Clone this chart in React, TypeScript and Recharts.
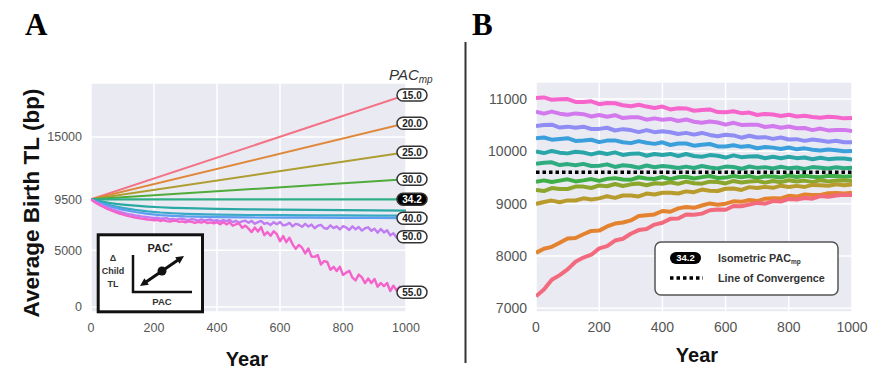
import React from 'react';
import { LineChart, Line, XAxis, YAxis, CartesianGrid, ReferenceLine, ReferenceDot } from 'recharts';

// ---------------- Panel A data ----------------
const A_X_TICKS = [0, 200, 400, 600, 800, 1000];
const A_Y_TICKS = [0, 5000, 9500, 15000];
const A_END_YEARS = [0, 1000];
const A_PAC15 = [9500, 18700];
const A_PAC20 = [9500, 16220];
const A_PAC25 = [9500, 13650];
const A_PAC30 = [9500, 11270];
const A_PAC342 = [9500, 9500];
const A_CURVE_YEARS = [0, 20, 40, 60, 80, 100, 140, 180, 220, 260, 300, 400, 500, 600, 700, 800, 900, 1000];
const A_TEAL = [9500, 9380, 9270, 9180, 9100, 9040, 8940, 8860, 8800, 8750, 8720, 8660, 8620, 8590, 8570, 8550, 8530, 8510];
const A_CYAN = [9500, 9310, 9140, 8990, 8860, 8750, 8570, 8440, 8340, 8270, 8220, 8150, 8120, 8100, 8090, 8080, 8070, 8060];
const A_BLUE = [9500, 9270, 9060, 8880, 8720, 8590, 8380, 8220, 8110, 8040, 7990, 7930, 7900, 7890, 7880, 7870, 7860, 7840];
const A_NOISY_YEARS = [
  0, 10, 20, 30, 40, 50, 60, 70, 80, 90, 100, 110, 120, 130, 140, 150, 160, 170, 180, 190,
  200, 210, 220, 230, 240, 250, 260, 270, 280, 290, 300, 310, 320, 330, 340, 350, 360, 370, 380, 390,
  400, 410, 420, 430, 440, 450, 460, 470, 480, 490, 500, 510, 520, 530, 540, 550, 560, 570, 580, 590,
  600, 610, 620, 630, 640, 650, 660, 670, 680, 690, 700, 710, 720, 730, 740, 750, 760, 770, 780, 790,
  800, 810, 820, 830, 840, 850, 860, 870, 880, 890, 900, 910, 920, 930, 940, 950, 960, 970, 980, 990, 1000,
];
const A_PURPLE = [
  9500, 9330, 9180, 9040, 8910, 8790, 8690, 8580, 8490, 8410,
  8330, 8260, 8200, 8150, 8090, 8050, 8000, 7960, 7930, 7890,
  7850, 7880, 7790, 7820, 7840, 7740, 7780, 7710, 7780, 7800,
  7710, 7670, 7750, 7710, 7630, 7730, 7640, 7680, 7720, 7600,
  7660, 7550, 7670, 7580, 7680, 7490, 7600, 7440, 7550, 7620,
  7440, 7600, 7340, 7490, 7590, 7330, 7420, 7240, 7480, 7310,
  7500, 7200, 7260, 7420, 7110, 7340, 7260, 7070, 7340, 7100,
  7270, 6950, 7170, 7240, 6970, 6900, 7210, 6960, 7110, 6840,
  7130, 7020, 6800, 7120, 6860, 7060, 6740, 6950, 7030, 6720,
  6910, 6560, 6880, 6580, 6770, 6320, 6510, 6130, 6430, 6110,
  6200,
];
const A_MAGENTA = [
  9500, 9290, 9120, 8960, 8820, 8680, 8560, 8450, 8350, 8250,
  8170, 8090, 8020, 7960, 7900, 7850, 7800, 7760, 7720, 7690,
  7660, 7680, 7590, 7660, 7580, 7530, 7600, 7630, 7510, 7560,
  7470, 7560, 7510, 7420, 7520, 7450, 7540, 7400, 7470, 7390,
  7480, 7300, 7500, 7290, 7470, 7170, 7300, 7380, 7000, 7180,
  6920, 6610, 7010, 6660, 7050, 6340, 6610, 6280, 6680, 6420,
  5800, 6260, 5720, 6120, 5530, 5130, 5480, 5230, 4730, 5170,
  4460, 4420, 4580, 3750, 4050, 3970, 3280, 3550, 3180, 3550,
  2830, 3030, 3190, 2590, 2350, 2860, 2610, 2110, 2510, 2110,
  2470, 1790, 2120, 1840, 2120, 1400, 1880, 1460, 1790, 1170,
  1300,
];

// ---------------- Panel B data ----------------
const B_X_TICKS = [0, 200, 400, 600, 800, 1000];
const B_CONVERGENCE = 9600;
const B_Y_TICKS = [7000, 8000, 9000, 9600, 10000, 11000];
const B_Y_TICK_LABELS = ['7000', '8000', '9000', '9500', '10000', '11000'];
const B_YEARS = [
  0, 25, 50, 75, 100, 125, 150, 175, 200, 225, 250, 275, 300, 325, 350, 375, 400, 425, 450, 475,
  500, 525, 550, 575, 600, 625, 650, 675, 700, 725, 750, 775, 800, 825, 850, 875, 900, 925, 950, 975, 1000,
];
const B_MAGENTA = [11020, 11030, 10985, 10995, 11000, 10945, 10945, 10955, 10900, 10925, 10920, 10880, 10860, 10890, 10855, 10830, 10855, 10800, 10825, 10820, 10775, 10790, 10800, 10750, 10745, 10765, 10730, 10740, 10695, 10715, 10705, 10675, 10700, 10665, 10680, 10655, 10640, 10660, 10650, 10630, 10635];
const B_VIOLET = [10760, 10720, 10760, 10720, 10700, 10725, 10710, 10665, 10695, 10660, 10690, 10635, 10650, 10650, 10605, 10630, 10605, 10620, 10580, 10610, 10565, 10545, 10570, 10550, 10510, 10545, 10505, 10510, 10510, 10465, 10485, 10450, 10475, 10440, 10445, 10405, 10435, 10400, 10410, 10410, 10390];
const B_INDIGO = [10485, 10502, 10509, 10455, 10472, 10449, 10471, 10427, 10429, 10451, 10398, 10424, 10406, 10368, 10405, 10366, 10383, 10365, 10332, 10353, 10320, 10352, 10314, 10290, 10317, 10304, 10261, 10297, 10264, 10271, 10238, 10264, 10226, 10233, 10200, 10226, 10208, 10185, 10202, 10173, 10175];
const B_BLUE = [10250, 10264, 10223, 10237, 10251, 10199, 10208, 10222, 10176, 10205, 10209, 10173, 10157, 10196, 10164, 10143, 10172, 10121, 10150, 10149, 10108, 10126, 10140, 10094, 10093, 10117, 10086, 10100, 10059, 10082, 10071, 10045, 10074, 10038, 10057, 10031, 10015, 10034, 10022, 10001, 10005];
const B_TEAL = [10000, 9967, 10008, 9975, 9961, 9993, 9979, 9941, 9977, 9949, 9980, 9932, 9953, 9960, 9916, 9948, 9929, 9951, 9912, 9949, 9910, 9897, 9928, 9915, 9881, 9923, 9889, 9901, 9907, 9869, 9895, 9867, 9898, 9870, 9881, 9848, 9879, 9851, 9862, 9864, 9845];
const B_SEAGREEN = [9765, 9782, 9790, 9738, 9756, 9735, 9760, 9720, 9725, 9751, 9702, 9733, 9720, 9687, 9729, 9696, 9719, 9707, 9680, 9708, 9682, 9721, 9690, 9674, 9708, 9702, 9666, 9710, 9684, 9698, 9672, 9706, 9675, 9690, 9664, 9699, 9688, 9673, 9697, 9676, 9685];
const B_GREEN = [9420, 9445, 9415, 9440, 9465, 9425, 9445, 9470, 9435, 9474, 9488, 9462, 9456, 9505, 9483, 9471, 9509, 9467, 9505, 9513, 9480, 9507, 9529, 9491, 9498, 9530, 9506, 9527, 9493, 9524, 9520, 9501, 9537, 9508, 9534, 9515, 9506, 9532, 9528, 9514, 9525];
const B_LIME = [9260, 9242, 9299, 9280, 9281, 9326, 9326, 9300, 9349, 9332, 9375, 9337, 9369, 9385, 9351, 9391, 9381, 9410, 9379, 9422, 9390, 9383, 9421, 9414, 9387, 9434, 9406, 9423, 9435, 9402, 9434, 9411, 9448, 9425, 9441, 9412, 9449, 9426, 9442, 9448, 9435];
const B_OLIVE = [8995, 9032, 9059, 9026, 9063, 9060, 9102, 9079, 9101, 9143, 9110, 9156, 9157, 9138, 9194, 9175, 9210, 9210, 9195, 9235, 9220, 9269, 9248, 9242, 9286, 9290, 9263, 9316, 9299, 9321, 9303, 9344, 9320, 9340, 9320, 9359, 9353, 9342, 9370, 9353, 9365];
const B_ORANGE = [8060, 8140, 8175, 8255, 8335, 8345, 8415, 8480, 8485, 8565, 8620, 8640, 8680, 8765, 8780, 8795, 8860, 8845, 8910, 8935, 8920, 8965, 9005, 8980, 9000, 9045, 9035, 9070, 9050, 9095, 9105, 9100, 9150, 9135, 9175, 9165, 9165, 9200, 9205, 9195, 9210];
const B_RED = [7230, 7360, 7545, 7635, 7745, 7890, 7970, 8025, 8145, 8190, 8295, 8330, 8425, 8495, 8515, 8600, 8635, 8710, 8715, 8795, 8790, 8810, 8875, 8890, 8885, 8955, 8950, 8985, 9015, 9000, 9050, 9040, 9090, 9080, 9110, 9095, 9145, 9130, 9155, 9170, 9165];

const toPts = (xs: number[], ys: number[]) => xs.map((x, i) => ({ year: x, tl: ys[i] }));

const A_SERIES = [
  { years: A_END_YEARS, values: A_PAC15, color: '#f37286', tag: '15.0', width: 2 },
  { years: A_END_YEARS, values: A_PAC20, color: '#e0883a', tag: '20.0', width: 2 },
  { years: A_END_YEARS, values: A_PAC25, color: '#ae9d31', tag: '25.0', width: 2 },
  { years: A_END_YEARS, values: A_PAC30, color: '#4fab3a', tag: '30.0', width: 2 },
  { years: A_END_YEARS, values: A_PAC342, color: '#2fae86', tag: '34.2', width: 2.2 },
  { years: A_CURVE_YEARS, values: A_TEAL, color: '#2aa9a4', tag: '', width: 2.2 },
  { years: A_CURVE_YEARS, values: A_CYAN, color: '#38a9c5', tag: '', width: 2.2 },
  { years: A_CURVE_YEARS, values: A_BLUE, color: '#5e9ef0', tag: '40.0', width: 2.2 },
  { years: A_NOISY_YEARS, values: A_PURPLE, color: '#c17cf2', tag: '50.0', width: 2.4 },
  { years: A_NOISY_YEARS, values: A_MAGENTA, color: '#f462cc', tag: '55.0', width: 2.4 },
];

const B_SERIES = [
  { values: B_MAGENTA, color: '#f565cc' },
  { values: B_VIOLET, color: '#d279ee' },
  { values: B_INDIGO, color: '#8f8cf3' },
  { values: B_BLUE, color: '#3b9fdb' },
  { values: B_TEAL, color: '#2aa5a8' },
  { values: B_SEAGREEN, color: '#2fab80' },
  { values: B_GREEN, color: '#3fae48' },
  { values: B_LIME, color: '#8ca62d' },
  { values: B_OLIVE, color: '#b89b2d' },
  { values: B_ORANGE, color: '#e4832f' },
  { values: B_RED, color: '#f26a7d' },
];

const FONT = '"Liberation Sans", Arial, Helvetica, sans-serif';

function TagBox(props: any) {
  const { cx, cy, text } = props;
  const dark = text === '34.2';
  const w = 30;
  const h = 12;
  const mx = cx + 6;
  return (
    <g>
      <rect x={mx - w / 2} y={cy - h / 2} width={w} height={h} rx={6} ry={6}
        fill={dark ? '#000' : '#fff'} stroke="#333" strokeWidth={1.5} />
      <text x={mx} y={cy} dy="0.36em" textAnchor="middle" fontFamily={FONT}
        fontWeight={700} fontSize={10} fill={dark ? '#fff' : '#222'}>{text}</text>
    </g>
  );
}

function BYTick(props: any) {
  const { x, y, payload } = props;
  const idx = B_Y_TICKS.indexOf(payload.value);
  const label = idx >= 0 ? B_Y_TICK_LABELS[idx] : String(payload.value);
  const bold = payload.value === B_CONVERGENCE;
  return (
    <text x={x} y={y} dy="0.36em" textAnchor="end" fontFamily={FONT}
      fontSize={bold ? 15.5 : 14} fontWeight={bold ? 700 : 400} fill={bold ? '#111' : '#555'}>
      {label}
    </text>
  );
}

function PanelA() {
  return (
    <LineChart width={435} height={369} margin={{ top: 83, right: 29, bottom: 27, left: 31 }}>
      <CartesianGrid fill="#EAEAF2" stroke="#ffffff" strokeWidth={1.5} />
      <XAxis type="number" dataKey="year" domain={[0, 1000]} ticks={A_X_TICKS} allowDataOverflow
        axisLine={false} tickLine={false} tickSize={0} tickMargin={11} height={30}
        tick={{ fill: '#555', fontSize: 12.5, fontFamily: FONT }} />
      <YAxis type="number" domain={[-441, 19765]} ticks={A_Y_TICKS} allowDataOverflow
        axisLine={false} tickLine={false} tickSize={0} tickMargin={9} width={60}
        tick={{ fill: '#555', fontSize: 12.5, fontFamily: FONT }} />
      {A_SERIES.map((s, i) => (
        <Line key={'a' + i} data={toPts(s.years, s.values)} dataKey="tl" type="linear"
          stroke={s.color} strokeWidth={s.width} strokeLinejoin="round" dot={false} activeDot={false}
          isAnimationActive={false} />
      ))}
      {A_SERIES.filter((s) => s.tag).map((s, i) => (
        <ReferenceDot key={'t' + i} x={s.years[s.years.length - 1]} y={s.values[s.values.length - 1]}
          r={0} ifOverflow="visible" shape={(p: any) => <TagBox cx={p.cx} cy={p.cy} text={s.tag} />} />
      ))}
    </LineChart>
  );
}

function PanelB() {
  return (
    <LineChart width={435} height={369} margin={{ top: 82, right: 18, bottom: 27, left: 41 }}>
      <CartesianGrid fill="#EAEAF2" stroke="#ffffff" strokeWidth={1.5} />
      <XAxis type="number" dataKey="year" domain={[0, 1000]} ticks={B_X_TICKS} allowDataOverflow
        axisLine={false} tickLine={false} tickSize={0} tickMargin={10} height={30}
        tick={{ fill: '#555', fontSize: 14, fontFamily: FONT }} />
      <YAxis type="number" domain={[6930, 11325]} ticks={B_Y_TICKS} allowDataOverflow
        axisLine={false} tickLine={false} tickSize={0} tickMargin={9} width={60}
        tick={<BYTick />} />
      {B_SERIES.map((s, i) => (
        <Line key={'b' + i} data={toPts(B_YEARS, s.values)} dataKey="tl" type="linear"
          stroke={s.color} strokeWidth={4} strokeLinejoin="round" dot={false} activeDot={false}
          isAnimationActive={false} />
      ))}
      <ReferenceLine y={B_CONVERGENCE} stroke="#000" strokeWidth={3.5} strokeDasharray="3.5 3" />
    </LineChart>
  );
}

function Overlay() {
  return (
    <svg width={870} height={369} style={{ position: 'absolute', left: 0, top: 0, pointerEvents: 'none' }}>
      <text x={25} y={35} fontFamily='"Liberation Serif", "Times New Roman", serif' fontWeight={700} fontSize={31} fill="#000">A</text>
      <text x={472} y={35} fontFamily='"Liberation Serif", "Times New Roman", serif' fontWeight={700} fontSize={31} fill="#000">B</text>
      <line x1={465.5} y1={42} x2={465.5} y2={363} stroke="#333" strokeWidth={2} />

      <text transform="translate(31,203) rotate(-90)" textAnchor="middle" dominantBaseline="central"
        fontFamily={FONT} fontWeight={700} fontSize={22.5} fill="#111">Average Birth TL (bp)</text>
      <text x={247} y={366} textAnchor="middle" fontFamily={FONT} fontWeight={700} fontSize={20} fill="#111">Year</text>
      <text x={697} y={362} textAnchor="middle" fontFamily={FONT} fontWeight={700} fontSize={20} fill="#111">Year</text>

      <text x={389} y={80} fontFamily={FONT} fontStyle="italic" fill="#333">
        <tspan fontSize={15}>PAC</tspan><tspan fontSize={10} dy={3}>mp</tspan>
      </text>

      {/* inset diagram */}
      <rect x={98.2} y={234.8} width={104.3} height={77} fill="#fff" stroke="#111" strokeWidth={3} />
      <text x={160} y={252} textAnchor="middle" fontFamily={FONT} fontWeight={700} fontSize={11} fill="#222">
        PAC<tspan fontSize={7} dy={-4}>*</tspan>
      </text>
      <text x={113} y={261} textAnchor="middle" fontFamily={FONT} fontWeight={700} fontSize={9} fill="#333">Δ</text>
      <text x={113} y={274} textAnchor="middle" fontFamily={FONT} fontWeight={700} fontSize={9} fill="#333">Child</text>
      <text x={113} y={287} textAnchor="middle" fontFamily={FONT} fontWeight={700} fontSize={9} fill="#333">TL</text>
      <polyline points="133,255 133,292 192,292" fill="none" stroke="#111" strokeWidth={2.5} />
      <text x={162} y={305} textAnchor="middle" fontFamily={FONT} fontWeight={700} fontSize={9.5} fill="#333">PAC</text>
      <line x1={146} y1={282} x2={178} y2={260} stroke="#111" strokeWidth={3} />
      <polygon points="184,256 179.6,263.8 175.2,257.2" fill="#111" />
      <polygon points="140,286 148.8,284.8 144.4,278.2" fill="#111" />
      <circle cx={162} cy={271} r={4.5} fill="#111" />

      {/* legend panel B */}
      <rect x={655} y={242} width={183} height={53} rx={6} ry={6} fill="#fff" stroke="#555" strokeWidth={1.5} />
      <rect x={670} y={252} width={31} height={12} rx={6} ry={6} fill="#000" />
      <text x={685.5} y={258} dy="0.36em" textAnchor="middle" fontFamily={FONT} fontWeight={700} fontSize={9.5} fill="#fff">34.2</text>
      <text x={718} y={262} fontFamily={FONT} fontWeight={700} fontSize={10.8} fill="#333">
        Isometric PAC<tspan fontSize={6.5} dy={2}>mp</tspan>
      </text>
      <line x1={670} y1={278} x2={703} y2={278} stroke="#000" strokeWidth={3.5} strokeDasharray="3.5 3" />
      <text x={718} y={282} fontFamily={FONT} fontWeight={700} fontSize={10.8} fill="#333">Line of Convergence</text>
    </svg>
  );
}

export default function App() {
  return (
    <div style={{ position: 'absolute', left: 0, top: 0, width: 870, height: 369, background: '#fff', overflow: 'hidden' }}>
      <div style={{ position: 'absolute', left: 0, top: 0 }}>
        <PanelA />
      </div>
      <div style={{ position: 'absolute', left: 435, top: 0 }}>
        <PanelB />
      </div>
      <Overlay />
    </div>
  );
}
